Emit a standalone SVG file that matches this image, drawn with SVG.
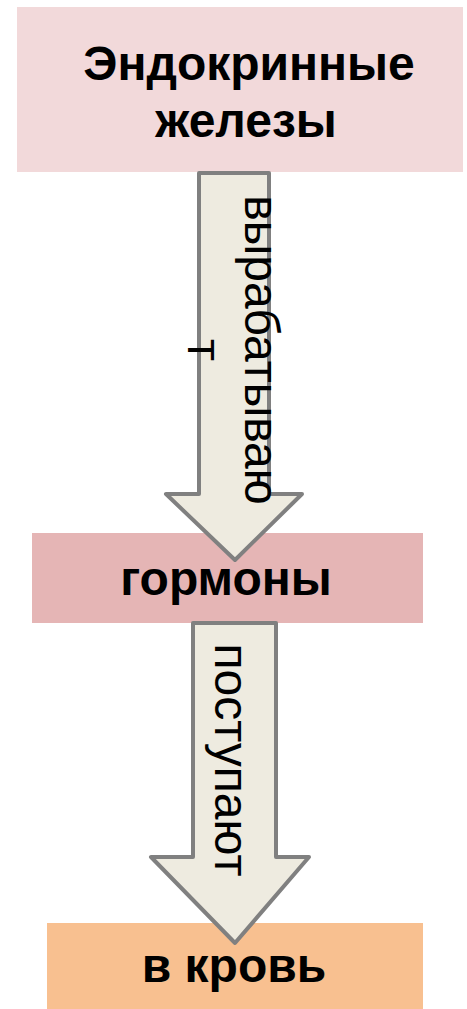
<svg xmlns="http://www.w3.org/2000/svg" width="467" height="1009" viewBox="0 0 467 1009">
<style>
.lbl{font-family:"Liberation Sans",Arial,sans-serif;font-weight:bold;fill:#000;text-anchor:middle;font-size:48px}
.arr{fill:#eeebe0;stroke:#808080;stroke-width:4;stroke-linejoin:round}
.vt{font-family:"Liberation Sans",Arial,sans-serif;font-size:48px;fill:#000;text-anchor:middle}
</style>
<rect width="467" height="1009" fill="#fff"/>
<g id="node-glands">
<rect x="17" y="7" width="446" height="165" fill="#f2d9da"/>
<text class="lbl" x="249" y="80">Эндокринные</text>
<text class="lbl" x="246" y="137">железы</text>
</g>
<g id="node-hormones">
<rect x="32" y="533" width="391" height="90" fill="#e5b5b5"/>
<text class="lbl" x="226" y="595">гормоны</text>
</g>
<g id="node-blood">
<rect x="47" y="923" width="376" height="86" fill="#f8c090"/>
<text class="lbl" x="234" y="982">в кровь</text>
</g>
<g id="connectors">
<g id="arrow-1">
<polygon class="arr" points="199,173 269,173 269,494 302,494 235,560 166,494 199,494"/>
<text class="vt" transform="translate(245,350) rotate(90)"><tspan x="0" y="0">вырабатываю</tspan><tspan x="0" y="57">т</tspan></text>
</g>
<g id="arrow-2">
<polygon class="arr" points="193,623 276,623 276,857 309,857 235,943 151,857 193,857"/>
<text class="vt" transform="translate(215,760) rotate(90)" x="0" y="0">поступают</text>
</g>
</g>
</svg>
